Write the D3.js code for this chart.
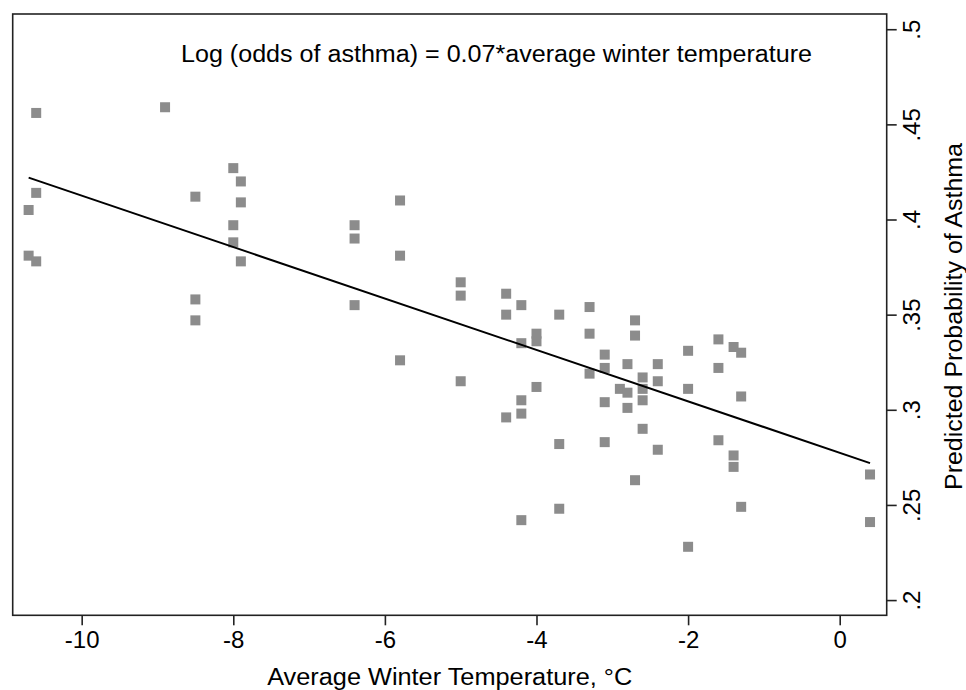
<!DOCTYPE html>
<html>
<head>
<meta charset="utf-8">
<script src="https://cdnjs.cloudflare.com/ajax/libs/d3/7.8.5/d3.min.js"></script>
<style>
    html, body { margin: 0; padding: 0; background: #fff; }
    svg { display: block; font-family: "Liberation Sans", Arial, sans-serif; }
</style>
</head>
<body>
<div id="chart"></div>
<script>
'use strict';

// average winter temperature (°C) for each observation
const temps = [
    -10.7, -10.7, -10.6, -10.6, -10.6, -8.9, -8.5, -8.5, -8.5,
    -8.0, -8.0, -8.0, -7.9, -7.9, -7.9, -6.4, -6.4, -6.4,
    -5.8, -5.8, -5.8, -5.0, -5.0, -5.0, -4.4, -4.4, -4.4,
    -4.2, -4.2, -4.2, -4.2, -4.2, -4.0, -4.0, -4.0,
    -3.7, -3.7, -3.7, -3.3, -3.3, -3.3, -3.1, -3.1, -3.1, -3.1,
    -2.9, -2.8, -2.8, -2.8, -2.7, -2.7, -2.7,
    -2.6, -2.6, -2.6, -2.6, -2.4, -2.4, -2.4, -2.0, -2.0, -2.0,
    -1.6, -1.6, -1.6, -1.4, -1.4, -1.4, -1.3, -1.3, -1.3, 0.4, 0.4
];

// predicted probability of asthma, same order as temps
const probs = [
    0.405, 0.381, 0.456, 0.414, 0.378, 0.459, 0.412, 0.358, 0.347,
    0.427, 0.397, 0.388, 0.420, 0.409, 0.378, 0.397, 0.390, 0.355,
    0.410, 0.381, 0.326, 0.367, 0.360, 0.315, 0.361, 0.350, 0.296,
    0.355, 0.335, 0.305, 0.298, 0.242, 0.340, 0.336, 0.312,
    0.350, 0.282, 0.248, 0.354, 0.340, 0.319, 0.329, 0.322, 0.304, 0.283,
    0.311, 0.324, 0.309, 0.301, 0.347, 0.339, 0.263,
    0.317, 0.311, 0.305, 0.290, 0.324, 0.315, 0.279, 0.331, 0.311, 0.228,
    0.337, 0.322, 0.284, 0.333, 0.276, 0.270, 0.330, 0.307, 0.249, 0.266, 0.241
];

// fitted line end points
const fitX = [-10.7, 0.4];
const fitY = [0.422, 0.272];

const xTicks = [-10, -8, -6, -4, -2, 0];
const yTicks = [0.2, 0.25, 0.3, 0.35, 0.4, 0.45, 0.5];
const yTickLabels = ['.2', '.25', '.3', '.35', '.4', '.45', '.5'];

const equation = 'Log (odds of asthma) = 0.07*average winter temperature';

// plot frame
var width = 966, height = 690;
var frame = {left: 12.7, right: 886.7, top: 14, bottom: 615.3};
var font = '"Liberation Sans", Arial, sans-serif';

var x = d3.scaleLinear()
    .domain([-10.91, 0.62])
    .range([frame.left, frame.right]);
var y = d3.scaleLinear()
    .domain([0.192, 0.508])
    .range([frame.bottom, frame.top]);

var svg = d3.select('#chart').append('svg')
    .attr('width', width)
    .attr('height', height);

// markers
var size = 10;
svg.append('g')
    .selectAll('rect')
    .data(temps.map(function (t, i) { return {t: t, p: probs[i]}; }))
    .enter().append('rect')
    .attr('x', function (d) { return x(d.t) - size / 2; })
    .attr('y', function (d) { return y(d.p) - size / 2; })
    .attr('width', size)
    .attr('height', size)
    .style('fill', '#8c8c8c');

// fitted line
var line = d3.line()
    .x(function (d) { return x(d[0]); })
    .y(function (d) { return y(d[1]); });
svg.append('path')
    .datum(fitX.map(function (v, i) { return [v, fitY[i]]; }))
    .attr('d', line)
    .style('fill', 'none')
    .style('stroke', '#000')
    .style('stroke-width', 2);

// frame box
svg.append('rect')
    .attr('x', frame.left)
    .attr('y', frame.top)
    .attr('width', frame.right - frame.left)
    .attr('height', frame.bottom - frame.top)
    .style('fill', 'none')
    .style('stroke', '#222')
    .style('stroke-width', 1.6);

// x axis at the bottom
var xAxis = svg.append('g')
    .attr('transform', 'translate(0,' + frame.bottom + ')')
    .call(d3.axisBottom(x)
        .tickValues(xTicks)
        .tickSize(10)
        .tickPadding(6)
        .tickFormat(function (d) { return String(d); }));
xAxis.select('.domain').remove();
xAxis.selectAll('line').style('stroke', '#222').style('stroke-width', 1.6);
xAxis.selectAll('text')
    .style('font-size', '24px')
    .style('font-family', font)
    .style('fill', '#000');

// y axis on the right, labels turned
var yAxis = svg.append('g')
    .attr('transform', 'translate(' + frame.right + ',0)')
    .call(d3.axisRight(y)
        .tickValues(yTicks)
        .tickSize(10)
        .tickFormat(function (d, i) { return yTickLabels[i]; }));
yAxis.select('.domain').remove();
yAxis.selectAll('line').style('stroke', '#222').style('stroke-width', 1.6);
yAxis.selectAll('text')
    .attr('x', null)
    .attr('dy', null)
    .attr('transform', 'translate(33,0) rotate(-90)')
    .attr('text-anchor', 'middle')
    .style('font-size', '24px')
    .style('font-family', font)
    .style('fill', '#000');

// axis titles
svg.append('text')
    .attr('x', (frame.left + frame.right) / 2)
    .attr('y', 685)
    .attr('text-anchor', 'middle')
    .attr('textLength', 365)
    .attr('lengthAdjust', 'spacingAndGlyphs')
    .style('font-size', '23.5px')
    .text('Average Winter Temperature, °C');

svg.append('text')
    .attr('transform', 'translate(962,316.5) rotate(-90)')
    .attr('text-anchor', 'middle')
    .attr('textLength', 347)
    .attr('lengthAdjust', 'spacingAndGlyphs')
    .style('font-size', '23.5px')
    .text('Predicted Probability of Asthma');

// equation note
svg.append('text')
    .attr('x', 181)
    .attr('y', 62)
    .attr('textLength', 631)
    .attr('lengthAdjust', 'spacingAndGlyphs')
    .style('font-size', '23.5px')
    .text(equation);
</script>
</body>
</html>
